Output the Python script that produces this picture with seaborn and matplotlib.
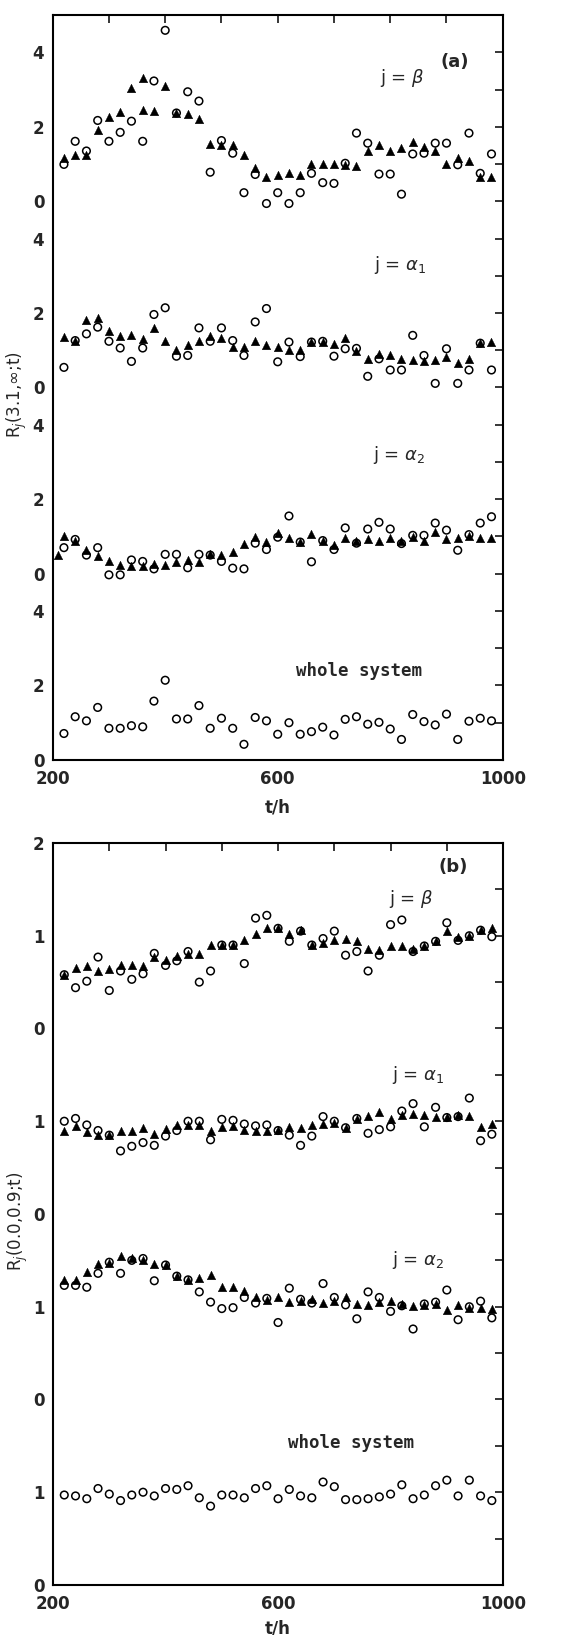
import matplotlib
matplotlib.use("Agg")
import matplotlib.pyplot as plt
import matplotlib.font_manager as fm
import seaborn as sns
import pandas as pd

# ===================== 数据 =====================
t_h = [220, 240, 260, 280, 300, 320, 340, 360, 380, 400,
       420, 440, 460, 480, 500, 520, 540, 560, 580, 600,
       620, 640, 660, 680, 700, 720, 740, 760, 780, 800,
       820, 840, 860, 880, 900, 920, 940, 960, 980]

# (a) R_j(3.1, inf; t)
a_beta_tri = [1.16, 1.23, 1.23, 1.92, 2.26, 2.39, 3.03, 3.32, 2.42, 3.10,
              2.37, 2.33, 2.22, 1.53, 1.52, 1.50, 1.25, 0.88, 0.66, 0.70,
              0.75, 0.70, 1.00, 1.00, 1.00, 0.98, 0.95, 1.34, 1.52, 1.36,
              1.44, 1.59, 1.47, 1.34, 0.99, 1.16, 1.07, 0.66, 0.66]
a_beta_circ = [0.99, 1.61, 1.35, 2.17, 1.61, 1.85, 2.15, 1.61, 3.23, 4.59,
               2.37, 2.94, 2.69, 0.78, 1.63, 1.29, 0.23, 0.72, -0.06, 0.23,
               -0.06, 0.23, 0.75, 0.50, 0.48, 1.02, 1.83, 1.56, 0.73, 0.73,
               0.19, 1.27, 1.29, 1.56, 1.56, 0.98, 1.83, 0.75, 1.27]
a_alpha1_tri = [1.35, 1.26, 1.80, 1.86, 1.53, 1.37, 1.42, 1.29, 1.60, 1.26,
                1.00, 1.15, 1.26, 1.37, 1.33, 1.10, 1.10, 1.26, 1.15, 1.08,
                1.01, 1.01, 1.22, 1.22, 1.17, 1.33, 0.99, 0.77, 0.90, 0.87,
                0.77, 0.75, 0.72, 0.75, 0.83, 0.65, 0.77, 1.19, 1.22]
a_alpha1_circ = [0.54, 1.26, 1.44, 1.62, 1.24, 1.06, 0.70, 1.06, 1.96, 2.14,
                 0.84, 0.86, 1.60, 1.24, 1.60, 1.26, 0.86, 1.76, 2.12, 0.69,
                 1.22, 0.83, 1.22, 1.24, 0.84, 1.04, 1.05, 0.30, 0.77, 0.47,
                 0.47, 1.40, 0.86, 0.11, 1.04, 0.11, 0.47, 1.19, 0.47]
a_alpha2_tri = [1.02, 0.87, 0.63, 0.47, 0.35, 0.24, 0.22, 0.22, 0.25, 0.24,
                0.31, 0.37, 0.32, 0.54, 0.50, 0.59, 0.80, 0.98, 0.85, 1.09,
                0.96, 0.85, 1.07, 0.87, 0.76, 0.96, 0.89, 0.94, 0.89, 0.96,
                0.87, 0.98, 0.89, 1.11, 0.94, 0.96, 1.01, 0.96, 0.96]
a_alpha2_circ = [0.70, 0.92, 0.50, 0.70, -0.03, -0.03, 0.37, 0.33, 0.13, 0.52,
                 0.52, 0.16, 0.52, 0.50, 0.33, 0.15, 0.13, 0.82, 0.65, 0.98,
                 1.55, 0.85, 0.32, 0.89, 0.65, 1.23, 0.82, 1.20, 1.38, 1.20,
                 0.81, 1.03, 1.03, 1.36, 1.17, 0.63, 1.05, 1.36, 1.53]
a_whole_circ = [0.71, 1.16, 1.05, 1.41, 0.85, 0.85, 0.92, 0.89, 1.58, 2.14,
                1.10, 1.10, 1.46, 0.85, 1.12, 0.85, 0.42, 1.14, 1.05, 0.69,
                1.00, 0.69, 0.76, 0.88, 0.67, 1.09, 1.16, 0.96, 1.01, 0.83,
                0.55, 1.22, 1.03, 0.94, 1.23, 0.55, 1.04, 1.12, 1.05]
# 额外的三角点（与网格不对齐）
a_extra_series = ["beta", "alpha2"]
a_extra_t = [360, 210]
a_extra_val = [2.45, 0.50]

# (b) R_j(0.0, 0.9; t)
b_beta_tri = [0.58, 0.65, 0.67, 0.62, 0.64, 0.69, 0.69, 0.67, 0.77, 0.74,
              0.78, 0.80, 0.80, 0.90, 0.90, 0.90, 0.95, 1.02, 1.08, 1.08,
              1.02, 1.06, 0.90, 0.92, 0.95, 0.97, 0.94, 0.86, 0.85, 0.89,
              0.89, 0.86, 0.89, 0.94, 1.05, 0.99, 1.00, 1.06, 1.08]
b_beta_circ = [0.58, 0.44, 0.51, 0.77, 0.41, 0.62, 0.53, 0.59, 0.81, 0.68,
               0.73, 0.83, 0.50, 0.62, 0.90, 0.90, 0.70, 1.19, 1.22, 1.08,
               0.94, 1.05, 0.90, 0.97, 1.05, 0.79, 0.83, 0.62, 0.79, 1.12,
               1.17, 0.83, 0.89, 0.94, 1.14, 0.95, 1.00, 1.06, 0.99]
b_alpha1_tri = [0.89, 0.95, 0.88, 0.85, 0.85, 0.89, 0.89, 0.93, 0.86, 0.92,
                0.96, 0.96, 0.96, 0.89, 0.94, 0.95, 0.91, 0.89, 0.89, 0.91,
                0.94, 0.93, 0.96, 0.97, 0.98, 0.93, 1.02, 1.06, 1.10, 1.02,
                1.07, 1.08, 1.07, 1.05, 1.05, 1.07, 1.06, 0.94, 0.97]
b_alpha1_circ = [1.00, 1.03, 0.96, 0.90, 0.85, 0.68, 0.73, 0.77, 0.74, 0.84,
                 0.90, 1.00, 1.00, 0.80, 1.02, 1.01, 0.97, 0.95, 0.96, 0.90,
                 0.85, 0.74, 0.84, 1.05, 1.00, 0.93, 1.03, 0.87, 0.91, 0.94,
                 1.11, 1.19, 0.94, 1.15, 1.04, 1.05, 1.25, 0.79, 0.86]
b_alpha2_tri = [1.29, 1.29, 1.37, 1.46, 1.47, 1.55, 1.53, 1.50, 1.46, 1.45,
                1.33, 1.29, 1.31, 1.34, 1.21, 1.21, 1.17, 1.10, 1.07, 1.11,
                1.05, 1.06, 1.08, 1.04, 1.06, 1.10, 1.03, 1.02, 1.05, 1.06,
                1.03, 1.01, 1.02, 1.03, 0.96, 1.02, 0.99, 0.99, 0.98]
b_alpha2_circ = [1.23, 1.23, 1.21, 1.36, 1.48, 1.36, 1.50, 1.52, 1.28, 1.45,
                 1.33, 1.29, 1.16, 1.05, 0.98, 0.99, 1.10, 1.04, 1.09, 0.83,
                 1.20, 1.08, 1.04, 1.25, 1.10, 1.02, 0.87, 1.16, 1.10, 0.95,
                 1.01, 0.76, 1.03, 1.05, 1.18, 0.86, 1.00, 1.06, 0.88]
b_whole_circ = [0.97, 0.96, 0.93, 1.04, 0.98, 0.91, 0.97, 1.00, 0.96, 1.04,
                1.03, 1.07, 0.94, 0.85, 0.97, 0.97, 0.94, 1.04, 1.07, 0.93,
                1.03, 0.96, 0.94, 1.11, 1.06, 0.92, 0.92, 0.93, 0.95, 0.98,
                1.08, 0.93, 0.97, 1.07, 1.13, 0.96, 1.13, 0.96, 0.91]

x_ticks = [200, 300, 400, 500, 600, 700, 800, 900, 1000]
x_tick_labels = ["200", "", "", "", "600", "", "", "", "1000"]
a_tick_labels = ["0", "", "2", "", "4"] * 4 + [""]
b_tick_labels = ["0", "", "1", ""] * 4 + ["2"]

# ===================== 样式 =====================
sns.set_theme(style="white")
names = {f.name for f in fm.fontManager.ttflist}
num_font = "DejaVu Sans"
for cand in ["Liberation Sans Narrow", "DejaVu Sans Condensed"]:
    if cand in names:
        num_font = cand
        break
plt.rcParams["font.family"] = [num_font, "DejaVu Sans"]
plt.rcParams["mathtext.fontset"] = "dejavusans"
plt.rcParams["axes.linewidth"] = 1.5


def long_frame(series, offsets):
    rows = []
    for name, tri, circ in series:
        off = offsets[name]
        if tri is not None:
            for tt, v in zip(t_h, tri):
                rows.append((tt, v + off, "tri"))
        for tt, v in zip(t_h, circ):
            rows.append((tt, v + off, "circ"))
    return pd.DataFrame(rows, columns=["t", "y", "kind"])


def draw_panel(ax, df, ymax, yticks, ylabels, ylabel, xlab_y):
    tri = df[df["kind"] == "tri"]
    circ = df[df["kind"] == "circ"]
    sns.scatterplot(data=tri, x="t", y="y", ax=ax, marker="^", s=38,
                    color="black", edgecolor="black", linewidth=0.3)
    sns.scatterplot(data=circ, x="t", y="y", ax=ax, marker="o", s=30,
                    facecolor="none", edgecolor="black", linewidth=1.1)
    ax.set_xlim(200, 1000)
    ax.set_ylim(0, ymax)
    ax.set_xticks(x_ticks)
    ax.set_xticklabels(x_tick_labels)
    ax.set_yticks(yticks)
    ax.set_yticklabels(ylabels)
    ax.tick_params(direction="in", length=6, width=1.3, top=True, right=True,
                   labelsize=12)
    ax.tick_params(axis="x", pad=7)
    ax.tick_params(axis="y", pad=6)
    for lbl in ax.get_xticklabels() + ax.get_yticklabels():
        lbl.set_fontweight("bold")
    ax.set_xlabel("t/h", fontsize=12, fontweight="bold")
    ax.xaxis.set_label_coords(0.5, xlab_y)
    ax.set_ylabel(ylabel, fontsize=12)
    ax.yaxis.set_label_coords(-0.052, 0.49)
    for sp in ax.spines.values():
        sp.set_color("black")


fig = plt.figure(figsize=(5.77, 16.35), dpi=100)
ax_a = fig.add_axes([0.0913, 0.5352, 0.780, 0.4556])
ax_b = fig.add_axes([0.0919, 0.0306, 0.780, 0.4538])

# ---- (a) ----
off_a = {"beta": 15, "alpha1": 10, "alpha2": 5, "whole": 0}
df_a = long_frame([("beta", a_beta_tri, a_beta_circ),
                   ("alpha1", a_alpha1_tri, a_alpha1_circ),
                   ("alpha2", a_alpha2_tri, a_alpha2_circ),
                   ("whole", None, a_whole_circ)], off_a)
extra = pd.DataFrame({"t": a_extra_t,
                      "y": [v + off_a[s] for s, v in zip(a_extra_series, a_extra_val)],
                      "kind": "tri"})
df_a = pd.concat([df_a, extra], ignore_index=True)
draw_panel(ax_a, df_a, 20, list(range(0, 21)), a_tick_labels,
           r"R$_j$(3.1,$\infty$;t)", -0.052)
ax_a.text(915, 18.75, "(a)", fontsize=13, fontweight="bold", ha="center", va="center")
ax_a.text(782, 18.3, r"j = $\beta$", fontsize=13, va="center")
ax_a.text(772, 13.3, r"j = $\alpha_1$", fontsize=13, va="center")
ax_a.text(770, 8.2, r"j = $\alpha_2$", fontsize=13, va="center")
ax_a.text(745, 2.4, "whole system", fontsize=12.5, fontweight="bold",
          family="DejaVu Sans Mono", ha="center", va="center")

# ---- (b) ----
off_b = {"beta": 6, "alpha1": 4, "alpha2": 2, "whole": 0}
df_b = long_frame([("beta", b_beta_tri, b_beta_circ),
                   ("alpha1", b_alpha1_tri, b_alpha1_circ),
                   ("alpha2", b_alpha2_tri, b_alpha2_circ),
                   ("whole", None, b_whole_circ)], off_b)
draw_panel(ax_b, df_b, 8, [i * 0.5 for i in range(17)], b_tick_labels,
           r"R$_j$(0.0,0.9;t)", -0.046)
ax_b.text(912, 7.74, "(b)", fontsize=13, fontweight="bold", ha="center", va="center")
ax_b.text(797, 7.4, r"j = $\beta$", fontsize=13, va="center")
ax_b.text(803, 5.5, r"j = $\alpha_1$", fontsize=13, va="center")
ax_b.text(803, 3.5, r"j = $\alpha_2$", fontsize=13, va="center")
ax_b.text(730, 1.53, "whole system", fontsize=12.5, fontweight="bold",
          family="DejaVu Sans Mono", ha="center", va="center")

fig.savefig("out.png", dpi=100)
